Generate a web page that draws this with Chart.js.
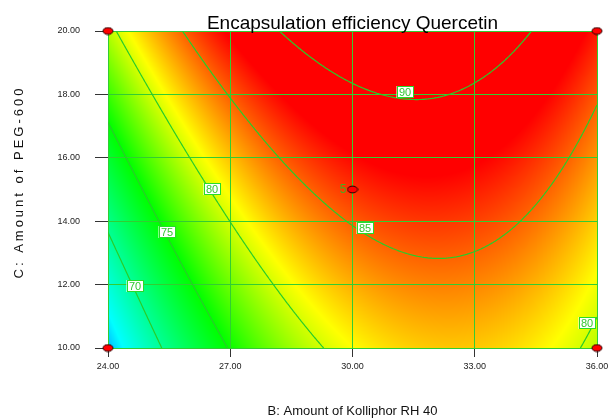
<!DOCTYPE html>
<html>
<head>
<meta charset="utf-8">
<script src="https://cdn.jsdelivr.net/npm/chart.js@4.4.1/dist/chart.umd.min.js"></script>
<style>
  html, body { margin: 0; padding: 0; background: #ffffff; }
  canvas { display: block; }
</style>
</head>
<body>
<canvas id="chart" width="613" height="419"></canvas>
<script>
// ---- data -------------------------------------------------------------
// Factor B (Kolliphor RH 40) levels, columns of the response grid
const kolliphorLevels = [24, 25, 26, 27, 28, 29, 30, 31, 32, 33, 34, 35, 36];
// Factor C (PEG-600) levels, rows of the response grid
const pegLevels = [10, 12, 14, 16, 18, 20];
// Encapsulation efficiency (%) of quercetin, one row per PEG-600 level
const eeAtPeg10 = [64.97, 68.86, 72.26, 75.18, 77.60, 79.53, 80.97, 81.92, 82.38, 82.36, 81.84, 80.83, 79.33];
const eeAtPeg12 = [67.70, 71.48, 74.77, 77.57, 79.88, 81.70, 83.03, 83.87, 84.22, 84.08, 83.45, 82.33, 80.72];
const eeAtPeg14 = [70.49, 74.16, 77.34, 80.03, 82.23, 83.93, 85.15, 85.88, 86.12, 85.86, 85.12, 83.89, 82.17];
const eeAtPeg16 = [73.36, 76.91, 79.98, 82.55, 84.64, 86.23, 87.34, 87.96, 88.08, 87.72, 86.86, 85.52, 83.68];
const eeAtPeg18 = [76.29, 79.73, 82.69, 85.15, 87.12, 88.61, 89.60, 90.10, 90.12, 89.64, 88.68, 87.22, 85.27];
const eeAtPeg20 = [79.29, 82.62, 85.46, 87.82, 89.68, 91.05, 91.93, 92.32, 92.22, 91.64, 90.56, 88.99, 86.93];
const eeRows = [eeAtPeg10, eeAtPeg12, eeAtPeg14, eeAtPeg16, eeAtPeg18, eeAtPeg20];

// Contour values drawn on the surface
const contourLevels = [70, 75, 80, 85, 90];

// Tick values
const xTickValues = [24, 27, 30, 33, 36];
const yTickValues = [10, 12, 14, 16, 18, 20];

// Design runs (factorial corners and the replicated centre point)
const runB = [24, 24, 36, 36, 30];
const runC = [10, 20, 10, 20, 15];
const runReplicates = [1, 1, 1, 1, 5];

// ---- presentation -----------------------------------------------------
const FONT = 'Arial, "Liberation Sans", Helvetica, sans-serif';
const GREEN_GRID = 'rgb(50, 205, 50)';
const GREEN_CONTOUR = 'rgb(40, 205, 40)';
const GREEN_LABEL = 'rgb(50, 200, 50)';

// colour ramp: response value -> colour
const rampStops = [
  [61.0, [0, 0, 255]],
  [66.5, [0, 255, 255]],
  [75.0, [0, 255, 0]],
  [81.0, [255, 255, 0]],
  [87.5, [255, 0, 0]]
];

// where each contour value is written (in factor units)
const contourLabelSpots = [
  { level: 90, b: 31.28, c: 18.07 },
  { level: 85, b: 30.31, c: 13.78 },
  { level: 80, b: 26.54, c: 15.02 },
  { level: 75, b: 25.44, c: 13.67 },
  { level: 70, b: 24.66, c: 11.96 },
  { level: 80, b: 35.75, c: 10.78 }
];

// ---- helpers ----------------------------------------------------------
function locate(levels, v) {
  let i = 0;
  while (i < levels.length - 2 && v > levels[i + 1]) i++;
  return i;
}

// slope (per grid step) at node k of an evenly spaced series
function nodeSlope(vals, k) {
  const n = vals.length;
  if (k === 0) return (-3 * vals[0] + 4 * vals[1] - vals[2]) / 2;
  if (k === n - 1) return (3 * vals[n - 1] - 4 * vals[n - 2] + vals[n - 3]) / 2;
  return (vals[k + 1] - vals[k - 1]) / 2;
}

// smooth (cubic Hermite) reading of an evenly spaced series between its nodes
function smoothAlong(levels, vals, v) {
  const i = locate(levels, v);
  const t = (v - levels[i]) / (levels[i + 1] - levels[i]);
  const p0 = vals[i], p1 = vals[i + 1];
  const m0 = nodeSlope(vals, i), m1 = nodeSlope(vals, i + 1);
  const t2 = t * t, t3 = t2 * t;
  return (2 * t3 - 3 * t2 + 1) * p0 + (t3 - 2 * t2 + t) * m0 + (-2 * t3 + 3 * t2) * p1 + (t3 - t2) * m1;
}

// response at (b, c)
function eeAt(b, c) {
  const column = eeRows.map(row => smoothAlong(kolliphorLevels, row, b));
  return smoothAlong(pegLevels, column, c);
}

function rampColour(v) {
  if (v <= rampStops[0][0]) return rampStops[0][1];
  for (let k = 0; k < rampStops.length - 1; k++) {
    const [v0, c0] = rampStops[k];
    const [v1, c1] = rampStops[k + 1];
    if (v <= v1) {
      const t = (v - v0) / (v1 - v0);
      return [c0[0] + (c1[0] - c0[0]) * t, c0[1] + (c1[1] - c0[1]) * t, c0[2] + (c1[2] - c0[2]) * t];
    }
  }
  return rampStops[rampStops.length - 1][1];
}

function ellipseMarker() {
  const cv = document.createElement('canvas');
  cv.width = 12; cv.height = 9;
  const g = cv.getContext('2d');
  g.beginPath();
  g.ellipse(6, 4.5, 5, 3.4, 0, 0, Math.PI * 2);
  g.fillStyle = '#ff0000';
  g.fill();
  g.lineWidth = 1;
  g.strokeStyle = '#220000';
  g.stroke();
  return cv;
}

// ---- plugins ----------------------------------------------------------
// colour-filled response surface under the grid
const surfacePlugin = {
  id: 'surface',
  beforeDraw(chart) {
    const { ctx, chartArea: a, scales } = chart;
    const w = Math.round(a.right - a.left), h = Math.round(a.bottom - a.top);
    const off = document.createElement('canvas');
    off.width = w; off.height = h;
    const g = off.getContext('2d');
    const img = g.createImageData(w, h);
    for (let py = 0; py < h; py++) {
      const c = scales.y.getValueForPixel(a.top + py + 0.5);
      for (let px = 0; px < w; px++) {
        const b = scales.x.getValueForPixel(a.left + px + 0.5);
        const col = rampColour(eeAt(b, c));
        const o = (py * w + px) * 4;
        img.data[o] = col[0]; img.data[o + 1] = col[1]; img.data[o + 2] = col[2]; img.data[o + 3] = 255;
      }
    }
    g.putImageData(img, 0, 0);
    ctx.drawImage(off, Math.round(a.left), Math.round(a.top));
  }
};

// contour lines and their value tags
const contourPlugin = {
  id: 'contours',
  beforeDatasetsDraw(chart) {
    const { ctx, chartArea: a, scales } = chart;
    const bMin = kolliphorLevels[0], bMax = kolliphorLevels[kolliphorLevels.length - 1];
    const cMin = pegLevels[0], cMax = pegLevels[pegLevels.length - 1];
    const NX = 240, NY = 200;
    const bOf = i => bMin + (bMax - bMin) * i / NX;
    const cOf = j => cMin + (cMax - cMin) * j / NY;
    const field = [];
    for (let j = 0; j <= NY; j++) {
      const row = [];
      for (let i = 0; i <= NX; i++) row.push(eeAt(bOf(i), cOf(j)));
      field.push(row);
    }
    ctx.save();
    ctx.beginPath();
    ctx.rect(a.left, a.top, a.right - a.left, a.bottom - a.top);
    ctx.clip();
    ctx.strokeStyle = GREEN_CONTOUR;
    ctx.lineWidth = 1.2;
    ctx.beginPath();
    for (const lv of contourLevels) {
      for (let j = 0; j < NY; j++) {
        for (let i = 0; i < NX; i++) {
          const v00 = field[j][i], v10 = field[j][i + 1], v11 = field[j + 1][i + 1], v01 = field[j + 1][i];
          const pts = [];
          const edge = (va, vb, ba, ca, bb, cb) => {
            if ((va < lv) !== (vb < lv)) {
              const t = (lv - va) / (vb - va);
              pts.push([ba + (bb - ba) * t, ca + (cb - ca) * t]);
            }
          };
          edge(v00, v10, bOf(i), cOf(j), bOf(i + 1), cOf(j));
          edge(v10, v11, bOf(i + 1), cOf(j), bOf(i + 1), cOf(j + 1));
          edge(v11, v01, bOf(i + 1), cOf(j + 1), bOf(i), cOf(j + 1));
          edge(v01, v00, bOf(i), cOf(j + 1), bOf(i), cOf(j));
          for (let k = 0; k + 1 < pts.length; k += 2) {
            ctx.moveTo(scales.x.getPixelForValue(pts[k][0]), scales.y.getPixelForValue(pts[k][1]));
            ctx.lineTo(scales.x.getPixelForValue(pts[k + 1][0]), scales.y.getPixelForValue(pts[k + 1][1]));
          }
        }
      }
    }
    ctx.stroke();
    ctx.restore();

    ctx.save();
    ctx.font = '11px ' + FONT;
    ctx.textAlign = 'center';
    ctx.textBaseline = 'middle';
    for (const s of contourLabelSpots) {
      const x = Math.round(scales.x.getPixelForValue(s.b));
      const y = Math.round(scales.y.getPixelForValue(s.c));
      const txt = String(s.level);
      const w = Math.round(ctx.measureText(txt).width) + 5;
      const h = 12;
      ctx.fillStyle = '#ffffff';
      ctx.fillRect(x - w / 2, y - h / 2, w, h);
      ctx.strokeStyle = 'rgb(40, 220, 40)';
      ctx.lineWidth = 1;
      ctx.strokeRect(Math.round(x - w / 2) + 0.5, Math.round(y - h / 2) + 0.5, w - 1, h - 1);
      ctx.fillStyle = GREEN_LABEL;
      ctx.fillText(txt, x, y + 0.5);
    }
    ctx.restore();
  },
  afterDatasetsDraw(chart) {
    const { ctx, scales } = chart;
    ctx.save();
    ctx.font = '12px ' + FONT;
    ctx.fillStyle = 'rgb(70, 175, 30)';
    ctx.textAlign = 'right';
    ctx.textBaseline = 'middle';
    runReplicates.forEach((n, k) => {
      if (n > 1) {
        ctx.fillText(String(n), scales.x.getPixelForValue(runB[k]) - 6, scales.y.getPixelForValue(runC[k]));
      }
    });
    ctx.restore();
  }
};

// chart title and the two factor captions
const captionPlugin = {
  id: 'captions',
  afterDraw(chart) {
    const { ctx, chartArea: a } = chart;
    const cx = (a.left + a.right) / 2;
    ctx.save();
    ctx.fillStyle = '#000000';
    ctx.textAlign = 'center';
    ctx.textBaseline = 'alphabetic';
    ctx.font = '19px ' + FONT;
    ctx.fillText('Encapsulation efficiency Quercetin', cx, 29);
    ctx.fillStyle = '#111111';
    ctx.font = '13px ' + FONT;
    ctx.fillText('B: Amount of Kolliphor RH 40', cx, 415);
    ctx.translate(23, 182);
    ctx.rotate(-Math.PI / 2);
    ctx.letterSpacing = '3px';
    ctx.fillText('C: Amount of PEG-600', 0, 0);
    ctx.restore();
  }
};

// ---- chart ------------------------------------------------------------
const marker = ellipseMarker();

new Chart(document.getElementById('chart'), {
  type: 'scatter',
  data: {
    datasets: [{
      data: runB.map((b, k) => ({ x: b, y: runC[k] })),
      pointStyle: marker,
      pointRadius: 5,
      clip: false
    }]
  },
  options: {
    responsive: false,
    animation: false,
    devicePixelRatio: 1,
    layout: { padding: { left: 0, top: 31, right: 16, bottom: 0 } },
    plugins: {
      legend: { display: false },
      tooltip: { enabled: false },
      title: { display: false }
    },
    scales: {
      x: {
        type: 'linear',
        min: kolliphorLevels[0],
        max: kolliphorLevels[kolliphorLevels.length - 1],
        afterBuildTicks: s => { s.ticks = xTickValues.map(v => ({ value: v })); },
        afterFit: s => { s.height = 71; },
        grid: { color: GREEN_GRID, lineWidth: 1, drawTicks: true, tickLength: 9, tickColor: '#333333', tickWidth: 1 },
        border: { color: GREEN_GRID, width: 1 },
        ticks: {
          font: { family: FONT, size: 9 }, color: '#222222', padding: 4,
          maxRotation: 0, autoSkip: false,
          callback: v => Number(v).toFixed(2)
        }
      },
      y: {
        type: 'linear',
        min: pegLevels[0],
        max: pegLevels[pegLevels.length - 1],
        afterBuildTicks: s => { s.ticks = yTickValues.map(v => ({ value: v })); },
        afterFit: s => { s.width = 108; },
        grid: { color: GREEN_GRID, lineWidth: 1, drawTicks: true, tickLength: 13, tickColor: '#333333', tickWidth: 1 },
        border: { color: GREEN_GRID, width: 1 },
        ticks: {
          font: { family: FONT, size: 9 }, color: '#222222', padding: 15,
          autoSkip: false,
          callback: v => Number(v).toFixed(2)
        }
      }
    }
  },
  plugins: [surfacePlugin, contourPlugin, captionPlugin]
});
</script>
</body>
</html>
